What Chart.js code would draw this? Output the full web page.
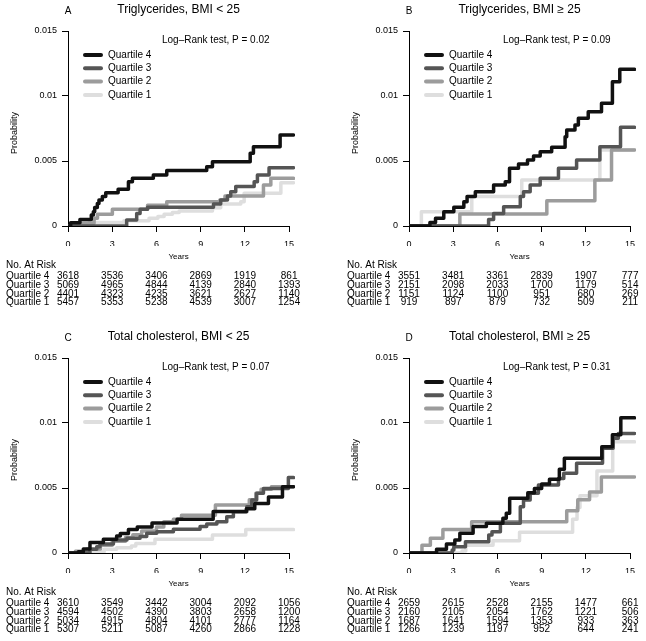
<!DOCTYPE html>
<html>
<head>
<meta charset="utf-8">
<script src="https://cdn.jsdelivr.net/npm/chart.js@4/dist/chart.umd.min.js"></script>
<style>
  body { margin: 0; background: #fff; width: 646px; height: 641px; position: relative; overflow: hidden; }
  canvas { position: absolute; }
</style>
</head>
<body>
<canvas id="chartA" width="305" height="314" style="left:0;top:0"></canvas>
<canvas id="chartB" width="305" height="314" style="left:341px;top:0"></canvas>
<canvas id="chartC" width="305" height="314" style="left:0;top:327px"></canvas>
<canvas id="chartD" width="305" height="314" style="left:341px;top:327px"></canvas>
<script>
// Axis ticks and labels
const yearTicks = [0, 3, 6, 9, 12, 15];
const probTicks = [0, 0.005, 0.01, 0.015];
const quartiles = ['Quartile 4', 'Quartile 3', 'Quartile 2', 'Quartile 1'];

// Cumulative probability curves, [years, probability] at each step
// A: Triglycerides, BMI < 25
const tgLowQ4 = [[0,0],[0.18,0.00025],[0.81,0.0005],[1.58,0.00085],[1.72,0.0011],[1.81,0.00143],[1.99,0.00174],[2.1,0.002],[2.33,0.00226],[2.56,0.00256],[3.4,0.00282],[4.1,0.00341],[4.37,0.00367],[5.79,0.00392],[6.7,0.00426],[9.41,0.00456],[9.8,0.00495],[12.36,0.00559],[12.58,0.0061],[14.39,0.007],[15.3,0.007]];
const tgLowQ3 = [[0,0],[3.98,0.00046],[4.66,0.00097],[4.89,0.00128],[5.4,0.00144],[9.87,0.00169],[10.36,0.002],[10.82,0.00231],[11.04,0.00264],[11.38,0.00303],[12.63,0.00341],[12.85,0.00392],[13.64,0.00449],[15.3,0.00449]];
const tgLowQ2 = [[0,0],[0.97,0.00021],[1.77,0.00059],[2.0,0.0009],[3.01,0.00128],[5.4,0.0016],[6.7,0.00187],[10.3,0.002],[10.65,0.0023],[13.26,0.00315],[13.76,0.00367],[15.3,0.00367]];
const tgLowQ1 = [[0,0],[0.41,0.0001],[1.43,0.00026],[3.8,0.00041],[5.5,0.00059],[6.1,0.00074],[6.52,0.0009],[7.08,0.00103],[7.54,0.00115],[9.8,0.00141],[10.36,0.00169],[11.72,0.00187],[11.95,0.00251],[14.44,0.00333],[15.3,0.00333]];
// B: Triglycerides, BMI >= 25
const tgHighQ4 = [[0,0],[1.42,0.00026],[1.8,0.00059],[2.36,0.0011],[3.04,0.00144],[3.72,0.00187],[3.94,0.00226],[4.5,0.00264],[5.74,0.00315],[6.53,0.00341],[6.82,0.00444],[7.43,0.00477],[8.04,0.00508],[8.45,0.00538],[8.9,0.00572],[9.68,0.00605],[10.59,0.00687],[10.7,0.00738],[11.26,0.00777],[11.49,0.00828],[12.16,0.00879],[13.06,0.00944],[13.8,0.0111],[14.3,0.01205],[15.3,0.01205]];
const tgHighQ3 = [[0,0],[5.4,0.0005],[5.74,0.00097],[6.42,0.00149],[7.55,0.00226],[7.77,0.00264],[8.22,0.00315],[8.9,0.00367],[10.14,0.00444],[11.37,0.00508],[12.95,0.0061],[14.35,0.00759],[15.3,0.00759]];
const tgHighQ2 = [[0,0],[3.45,0.00092],[9.35,0.00195],[12.61,0.00354],[13.74,0.00585],[15.3,0.00585]];
const tgHighQ1 = [[0,0],[0.84,0.0011],[4.26,0.00226],[7.65,0.00354],[12.95,0.00585],[15.3,0.00585]];
// C: Total cholesterol, BMI < 25
const tcLowQ4 = [[0,0],[0.7,0.0001],[1.04,0.0003],[1.49,0.0008],[2.4,0.00105],[3.3,0.0013],[3.55,0.0015],[4.1,0.0018],[4.7,0.002],[5.7,0.0023],[7.4,0.0026],[9.85,0.0032],[12.1,0.0034],[12.67,0.0038],[13.6,0.0043],[14.55,0.0051],[15.3,0.0051]];
const tcLowQ3 = [[0,0],[1.49,0.00028],[1.95,0.00049],[2.17,0.00069],[3.08,0.001],[4.0,0.00113],[4.89,0.00126],[5.34,0.00151],[6.02,0.00164],[7.15,0.00182],[8.96,0.00203],[9.41,0.00223],[10.1,0.00241],[10.77,0.00279],[11.22,0.00318],[12.13,0.00356],[12.47,0.00408],[12.8,0.00459],[13.26,0.00497],[14.95,0.0058],[15.3,0.0058]];
const tcLowQ2 = [[0,0],[0.5,0.00013],[1.3,0.0003],[2.2,0.0006],[3.0,0.0009],[3.9,0.0012],[4.4,0.0014],[5.0,0.0017],[6.0,0.002],[6.5,0.0024],[7.15,0.0026],[7.7,0.0029],[10.0,0.0037],[12.3,0.0041],[12.74,0.0046],[13.1,0.0049],[13.8,0.0051],[15.3,0.0051]];
const tcLowQ1 = [[0,0],[1.3,0.0001],[2.45,0.00028],[3.3,0.0004],[4.3,0.00054],[4.6,0.00074],[5.9,0.00105],[9.8,0.00138],[12.06,0.0018],[15.3,0.0018]];
// D: Total cholesterol, BMI >= 25
const tcHighQ4 = [[0,0],[1.87,0.00028],[2.54,0.00069],[3.11,0.001],[3.45,0.00151],[4.35,0.00203],[5.25,0.00228],[6.37,0.00267],[6.6,0.00305],[6.83,0.00421],[8.06,0.00464],[8.51,0.00497],[9.0,0.0053],[9.53,0.00567],[10.2,0.00644],[10.54,0.00728],[13.08,0.00818],[13.8,0.0091],[14.37,0.0104],[15.3,0.0104]];
const tcHighQ3 = [[0,0],[2.93,0.00023],[3.04,0.00049],[3.83,0.00087],[5.41,0.00138],[5.63,0.00164],[6.2,0.00228],[7.55,0.00356],[7.77,0.00408],[8.22,0.00459],[8.78,0.00523],[10.14,0.00574],[10.5,0.00613],[11.37,0.0069],[13.13,0.00805],[13.85,0.00882],[14.2,0.0092],[15.3,0.0092]];
const tcHighQ2 = [[0,0],[0.88,0.0006],[1.45,0.00113],[2.3,0.0018],[4.25,0.0024],[10.7,0.00325],[11.45,0.0041],[12.25,0.0047],[13.05,0.00585],[15.3,0.00585]];
const tcHighQ1 = [[0,0],[3.6,0.00015],[3.85,0.0006],[5.7,0.00095],[7.5,0.0016],[11.1,0.0026],[11.4,0.0035],[11.6,0.0044],[12.75,0.0063],[13.82,0.00855],[15.3,0.00855]];

// Number at risk (rows: Quartile 4..1, columns: yearTicks)
const riskTgLow = [[3618,3536,3406,2869,1919,861],[5069,4965,4844,4139,2840,1393],[4401,4323,4235,3621,2627,1140],[5457,5353,5238,4539,3007,1254]];
const riskTgHigh = [[3551,3481,3361,2839,1907,777],[2151,2098,2033,1700,1179,514],[1151,1124,1100,951,680,269],[919,897,879,732,509,211]];
const riskTcLow = [[3610,3549,3442,3004,2092,1056],[4594,4502,4390,3803,2658,1200],[5034,4915,4804,4101,2777,1164],[5307,5211,5087,4260,2866,1228]];
const riskTcHigh = [[2659,2615,2528,2155,1477,661],[2160,2105,2054,1762,1221,506],[1687,1641,1594,1353,933,363],[1266,1239,1197,952,644,241]];

const FONT = '"Liberation Sans", Arial, Helvetica, sans-serif';
const lineColors = ['#111111', '#555555', '#9c9c9c', '#dedede'];

Chart.defaults.font.family = FONT;
Chart.defaults.color = '#000';

// Draws axis line, titles, legend and the risk table
const decor = {
    id: 'decor',
    beforeDatasetsDraw(chart) {
        const { ctx, chartArea } = chart;
        const x = chart.scales.x;
        ctx.save();
        ctx.strokeStyle = '#000';
        ctx.lineWidth = 1;
        ctx.beginPath();
        ctx.moveTo(x.getPixelForValue(0), chartArea.bottom + 0.5);
        ctx.lineTo(x.getPixelForValue(15) + 0.5, chartArea.bottom + 0.5);
        ctx.stroke();
        ctx.restore();
    },
    afterDraw(chart, args, o) {
        const { ctx } = chart;
        const x = chart.scales.x;
        const mid = x.getPixelForValue(7.5);
        ctx.save();
        ctx.fillStyle = '#000';

        // panel letter and title
        ctx.textBaseline = 'alphabetic';
        ctx.textAlign = 'center';
        ctx.font = '10px ' + FONT;
        ctx.fillText(o.letter, 68, 13.5);
        ctx.font = '12px ' + FONT;
        ctx.fillText(o.title, mid, 13);

        // log-rank text
        ctx.textAlign = 'left';
        ctx.textBaseline = 'middle';
        ctx.font = '10px ' + FONT;
        ctx.fillText('Log\u2013Rank test, P = ' + o.p, 162, 40);

        // legend
        quartiles.forEach((q, i) => {
            const y = 55 + i * 13.3;
            ctx.strokeStyle = lineColors[i];
            ctx.lineWidth = 4;
            ctx.lineCap = 'round';
            ctx.beginPath();
            ctx.moveTo(85, y);
            ctx.lineTo(101, y);
            ctx.stroke();
            ctx.fillText(q, 108, y);
        });

        // y axis title
        ctx.save();
        ctx.translate(15, 133);
        ctx.rotate(-Math.PI / 2);
        ctx.textAlign = 'center';
        ctx.font = '9px ' + FONT;
        ctx.fillText('Probability', 0, 0);
        ctx.restore();

        // x axis title
        ctx.textAlign = 'center';
        ctx.font = '8px ' + FONT;
        ctx.fillText('Years', mid, 257);

        // risk table
        ctx.font = '10px ' + FONT;
        ctx.textAlign = 'left';
        ctx.fillText('No. At Risk', 6, 265);
        o.risk.forEach((row, i) => {
            const y = 276 + i * 8.9;
            ctx.textAlign = 'left';
            ctx.fillText(quartiles[i], 6, y);
            ctx.textAlign = 'center';
            row.forEach((n, j) => ctx.fillText(String(n), x.getPixelForValue(yearTicks[j]), y));
        });
        ctx.restore();
    }
};

function makePanel(id, letter, title, p, curves, risk) {
    new Chart(document.getElementById(id), {
        type: 'line',
        data: {
            datasets: curves.map((c, i) => ({
                label: quartiles[i],
                data: c.map(([t, v]) => ({ x: t, y: v })),
                borderColor: lineColors[i],
                borderWidth: 3.5,
                stepped: true,
                pointRadius: 0,
                pointHoverRadius: 0,
                fill: false,
                borderJoinStyle: 'round',
                borderCapStyle: 'round'
            }))
        },
        options: {
            responsive: false,
            animation: false,
            events: [],
            layout: { padding: { left: 0, top: 31, right: 10, bottom: 68 } },
            plugins: {
                legend: { display: false },
                tooltip: { enabled: false },
                decor: { letter, title, p, risk }
            },
            scales: {
                x: {
                    type: 'linear',
                    min: 0,
                    max: 15.4,
                    afterBuildTicks: s => { s.ticks = yearTicks.map(v => ({ value: v })); },
                    afterFit: s => { s.height = 20; },
                    border: { display: false },
                    grid: { drawOnChartArea: false, drawTicks: true, tickLength: 6, color: '#000', lineWidth: 1 },
                    ticks: { font: { size: 9 }, color: '#000', padding: 7, maxRotation: 0, autoSkip: false }
                },
                y: {
                    min: 0,
                    max: 0.015,
                    afterBuildTicks: s => { s.ticks = probTicks.map(v => ({ value: v })); },
                    afterFit: s => { s.width = 68; },
                    border: { display: true, color: '#000', width: 1 },
                    grid: { drawOnChartArea: false, drawTicks: true, tickLength: 6, color: '#000', lineWidth: 1 },
                    ticks: { font: { size: 9 }, color: '#000', padding: 5, callback: v => String(v) }
                }
            }
        },
        plugins: [decor]
    });
}

makePanel('chartA', 'A', 'Triglycerides, BMI < 25', '0.02', [tgLowQ4, tgLowQ3, tgLowQ2, tgLowQ1], riskTgLow);
makePanel('chartB', 'B', 'Triglycerides, BMI \u2265 25', '0.09', [tgHighQ4, tgHighQ3, tgHighQ2, tgHighQ1], riskTgHigh);
makePanel('chartC', 'C', 'Total cholesterol, BMI < 25', '0.07', [tcLowQ4, tcLowQ3, tcLowQ2, tcLowQ1], riskTcLow);
makePanel('chartD', 'D', 'Total cholesterol, BMI \u2265 25', '0.31', [tcHighQ4, tcHighQ3, tcHighQ2, tcHighQ1], riskTcHigh);
</script>
</body>
</html>
